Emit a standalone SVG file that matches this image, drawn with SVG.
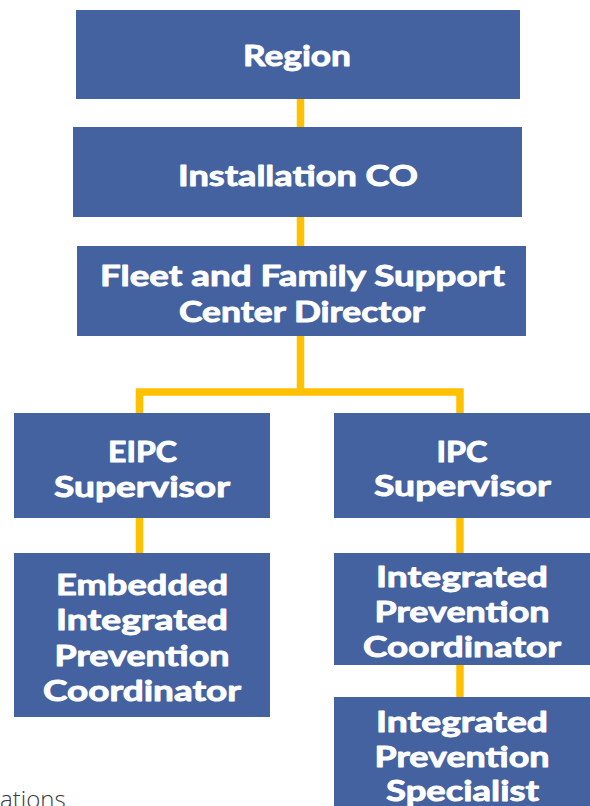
<svg xmlns="http://www.w3.org/2000/svg" width="590" height="806" viewBox="0 0 590 806">
<defs>
<style>
.box{fill:#4562A0;}
.lbl{fill:#FFFFFF;stroke:#FFFFFF;stroke-width:0.9px;stroke-linejoin:round;font-family:Lato,"Open Sans","DejaVu Sans",sans-serif;font-weight:700;font-size:29px;text-anchor:middle;}
.conn{fill:none;stroke:#FFC000;stroke-width:7.5;stroke-linejoin:miter;stroke-linecap:butt;}
.note{fill:#3A3A3A;font-family:"Open Sans","Noto Sans",sans-serif;font-weight:300;font-size:24px;}
</style>
</defs>
<rect x="0" y="0" width="590" height="806" fill="#FFFFFF"/>
<g id="connectors">
<path class="conn" d="M300.5,99 V127"/>
<path class="conn" d="M300.5,216 V246"/>
<path class="conn" d="M300.5,335 V392"/>
<path class="conn" d="M139.5,413 V392 H460 V413"/>
<path class="conn" d="M139.5,517 V553"/>
<path class="conn" d="M460,517 V553"/>
<path class="conn" d="M460,664 V697"/>
</g>
<g id="region">
<rect class="box" x="76" y="10" width="444" height="89"/>
<text class="lbl" x="297" y="66" textLength="108" lengthAdjust="spacingAndGlyphs">Region</text>
</g>
<g id="installation-co">
<rect class="box" x="73" y="127" width="449" height="90"/>
<text class="lbl" x="298" y="186" textLength="240" lengthAdjust="spacingAndGlyphs">Installation CO</text>
</g>
<g id="ffsc-director">
<rect class="box" x="77" y="246" width="449" height="90"/>
<text class="lbl" x="302.5" y="286" textLength="405" lengthAdjust="spacingAndGlyphs">Fleet and Family Support</text>
<text class="lbl" x="302" y="322" textLength="246" lengthAdjust="spacingAndGlyphs">Center Director</text>
</g>
<g id="eipc-supervisor">
<rect class="box" x="14" y="413" width="256" height="105"/>
<text class="lbl" x="142.5" y="462" textLength="69" lengthAdjust="spacingAndGlyphs">EIPC</text>
<text class="lbl" x="142" y="497" textLength="176" lengthAdjust="spacingAndGlyphs">Supervisor</text>
</g>
<g id="ipc-supervisor">
<rect class="box" x="334" y="413" width="256" height="105"/>
<text class="lbl" x="462" y="462" textLength="51" lengthAdjust="spacingAndGlyphs">IPC</text>
<text class="lbl" x="462.5" y="496" textLength="177" lengthAdjust="spacingAndGlyphs">Supervisor</text>
</g>
<g id="embedded-ipc">
<rect class="box" x="14" y="553" width="256" height="164"/>
<text class="lbl" x="142" y="595" textLength="172" lengthAdjust="spacingAndGlyphs">Embedded</text>
<text class="lbl" x="142" y="630" textLength="172" lengthAdjust="spacingAndGlyphs">Integrated</text>
<text class="lbl" x="142" y="666" textLength="175" lengthAdjust="spacingAndGlyphs">Prevention</text>
<text class="lbl" x="142" y="701" textLength="198" lengthAdjust="spacingAndGlyphs">Coordinator</text>
</g>
<g id="ipc-coordinator">
<rect class="box" x="334" y="553" width="256" height="112"/>
<text class="lbl" x="462" y="587" textLength="172" lengthAdjust="spacingAndGlyphs">Integrated</text>
<text class="lbl" x="462" y="622" textLength="175" lengthAdjust="spacingAndGlyphs">Prevention</text>
<text class="lbl" x="462" y="657" textLength="198" lengthAdjust="spacingAndGlyphs">Coordinator</text>
</g>
<g id="ipc-specialist">
<rect class="box" x="334" y="697" width="256" height="109"/>
<text class="lbl" x="462" y="732" textLength="172" lengthAdjust="spacingAndGlyphs">Integrated</text>
<text class="lbl" x="462" y="767" textLength="175" lengthAdjust="spacingAndGlyphs">Prevention</text>
<text class="lbl" x="462.5" y="801" textLength="153" lengthAdjust="spacingAndGlyphs">Specialist</text>
</g>
<text class="note" x="0" y="808">ations</text>
</svg>
